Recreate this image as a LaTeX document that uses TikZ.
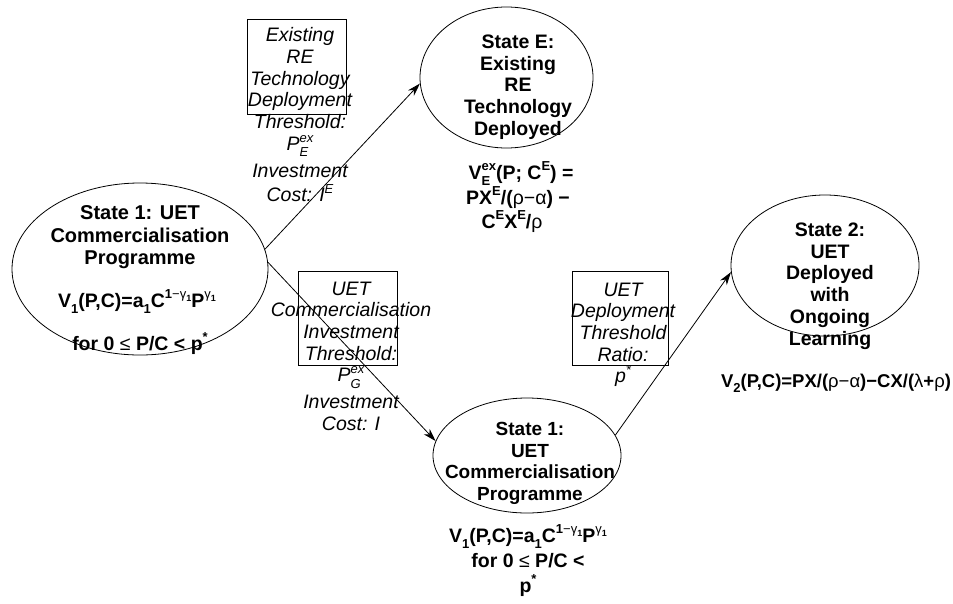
\documentclass[tikz,border=0pt]{standalone}
\usepackage{fontspec}
\setmainfont{Liberation Sans}
\usetikzlibrary{shapes.geometric,arrows.meta}

% small raised / lowered indices set in text
\newcommand\lo[1]{\raisebox{-0.6ex}{\fontsize{13}{13}\selectfont #1}}
\newcommand\hi[1]{\raisebox{0.8ex}{\fontsize{13}{13}\selectfont #1}}
\newcommand\lolo[1]{\raisebox{-0.45ex}{\fontsize{9}{9}\selectfont #1}}
% Greek letters in regular weight inside bold formulas
\newcommand\gk[1]{{\mdseries\upshape #1}}
% stacked sub- and superscript
\newcommand\subsup[2]{\makebox[0pt][l]{\lo{#1}}\hi{#2}}

\tikzset{
  state/.style={draw, ellipse, line width=0.8pt, inner sep=0pt},
  gate/.style={draw, rectangle, line width=0.8pt, inner sep=0pt},
  title/.style={align=center, inner sep=0pt, anchor=north,
    font=\fontsize{19.5}{21.8}\selectfont\bfseries},
  formula/.style={inner sep=0pt, anchor=base,
    font=\fontsize{19.5}{21.8}\selectfont\bfseries},
  note/.style={align=center, inner sep=0pt, anchor=north,
    font=\fontsize{19.5}{21.7}\selectfont\itshape},
  arr/.style={line width=0.8pt, -{Stealth[length=13pt,width=8pt,inset=4pt]}}
}

\begin{document}
\begin{tikzpicture}[x=1pt,y=-1pt]
\useasboundingbox (0,0) rectangle (953,603);

% states
\node[state, minimum width=256pt, minimum height=172pt] (s1)  at (140,269)   {};
\node[state, minimum width=173pt, minimum height=141pt] (sE)  at (506.5,77.5) {};
\node[state, minimum width=188pt, minimum height=115pt] (s1b) at (527,455.5)  {};
\node[state, minimum width=188pt, minimum height=141pt] (s2)  at (825,265.5)  {};

% threshold boxes
\node[gate, minimum width=99pt, minimum height=95pt] (b1) at (296.5,66.5) {};
\node[gate, minimum width=99pt, minimum height=94pt] (b2) at (347.5,318)  {};
\node[gate, minimum width=96pt, minimum height=94pt] (b3) at (620,318)    {};

% state texts
\node[title, font=\fontsize{20}{22.5}\selectfont\bfseries] (t1) at (140,205.5)
  {State 1: UET\\Commercialisation\\Programme};
\node[formula] (f1a) at (137,307)
  {V\lo{1}(P,C)=a\lo{1}C\hi{1\gk{−γ}\lolo{1}}P\hi{\gk{γ}\lolo{1}}};
\node[formula] (f1b) at (140,350) {for 0 \gk{≤} P/C < p\hi{*}};

\node[title] (tE) at (518,34.5)
  {State E:\\Existing\\RE\\Technology\\Deployed};
\node[formula] (fEa) at (521,179) {V\subsup{E}{ex}(P; C\hi{E}) =};
\node[formula] (fEb) at (518,204) {PX\hi{E}/(\gk{ρ−α}) −};
\node[formula] (fEc) at (512,228) {C\hi{E}X\hi{E}/\gk{ρ}};

\node[title, font=\fontsize{19}{21.5}\selectfont\bfseries] (t1b) at (530,422.5)
  {State 1:\\UET\\Commercialisation\\Programme};
\node[formula] (f1c) at (528,542)
  {V\lo{1}(P,C)=a\lo{1}C\hi{1\gk{−γ}\lolo{1}}P\hi{\gk{γ}\lolo{1}}};
\node[formula] (f1d) at (528,567) {for 0 \gk{≤} P/C <};
\node[formula] (f1e) at (528,592) {p\hi{*}};

\node[title] (t2) at (830,222.5)
  {State 2:\\UET\\Deployed\\with\\Ongoing\\Learning};
\node[formula, font=\fontsize{18.5}{21}\selectfont\bfseries] (f2) at (836,387)
  {V\lo{2}(P,C)=PX/(\gk{ρ−α})−CX/(\gk{λ}+\gk{ρ})};

% threshold texts
\node[note] (n1) at (300,27.5)
  {Existing\\RE\\Technology\\Deployment\\Threshold:\\P\subsup{E}{ex}\\[5pt]Investment\\[3pt]Cost: I\hi{E}};
\node[note] (n2) at (351,281.5)
  {UET\\Commercialisation\\Investment\\Threshold:\\P\subsup{G}{ex}\\[5pt]Investment\\Cost: I};
\node[note] (n3) at (623,282.5)
  {UET\\Deployment\\Threshold\\Ratio:\\p\hi{*}};

% transitions
\draw[arr] (s1.9)   -- (sE.184);
\draw[arr] (s1.3)   -- (s1b.171);
\draw[arr] (s1b.13) -- (s2.184);
\end{tikzpicture}
\end{document}
